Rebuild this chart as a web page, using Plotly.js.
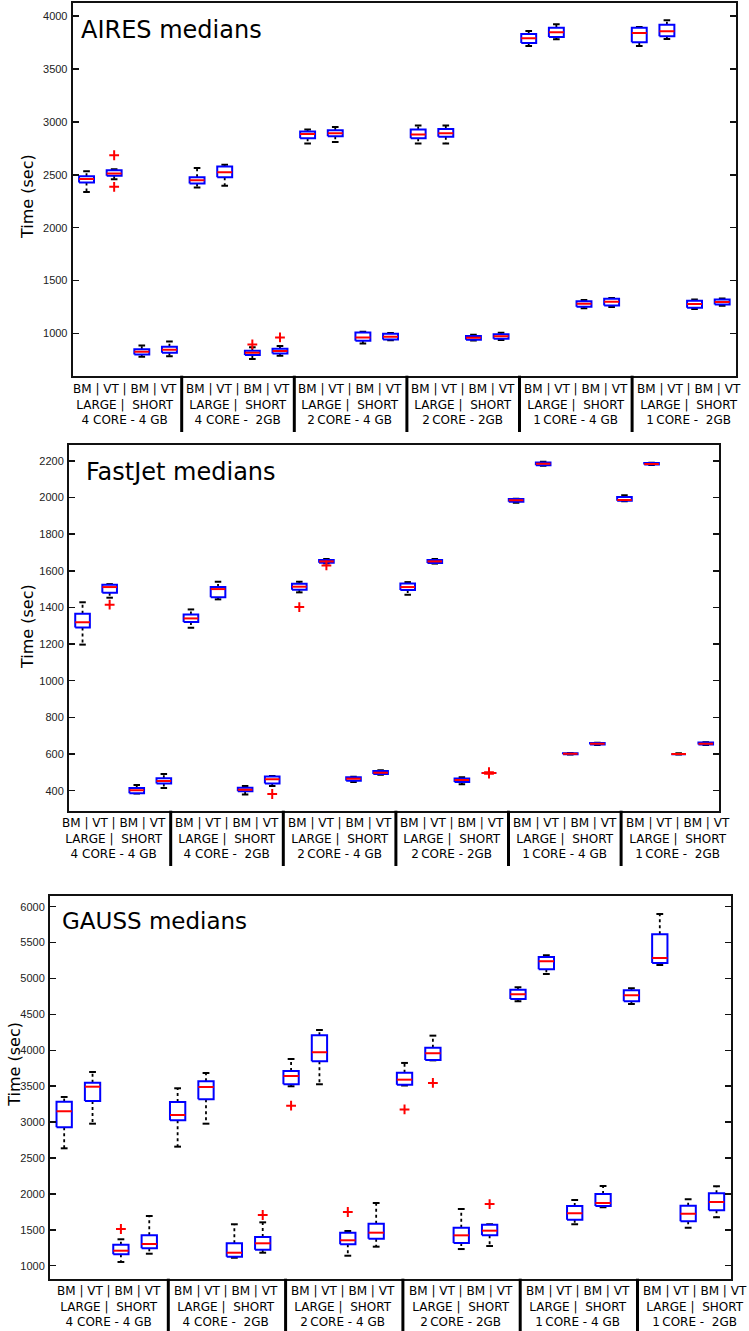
<!DOCTYPE html>
<html><head><meta charset="utf-8">
<script src="https://cdn.plot.ly/plotly-3.0.1.min.js"></script>
<style>html,body{margin:0;padding:0;background:#fff}#chart{width:749px;height:1331px}</style>
</head><body><div id="chart"></div>
<script>
// ---------- categories / labels ----------
const positions = [1,2,3,4,5,6,7,8,9,10,11,12,13,14,15,16,17,18,19,20,21,22,23,24];
const groupLine1 = "BM | VT | BM | VT";
const groupLine2 = "LARGE |\u00a0\u00a0SHORT";
const groupLine3 = ["4 CORE - 4 GB", "4 CORE -\u00a0\u00a02GB", "2\u2009CORE - 4 GB",
                    "2\u2009CORE - 2GB", "1\u2009CORE - 4 GB", "1\u2009CORE -\u00a0\u00a02GB"];
const panelTitles = ["AIRES medians", "FastJet medians", "GAUSS medians"];
const yTitle = "Time (sec)";

// ---------- AIRES ----------
const airesLow  = [2338,2458,779,785, 2380,2396,757,788, 2796,2811,905,936, 2796,2796,934,937, 3718,3782,1239,1249, 3718,3785,1230,1261];
const airesQ1   = [2427,2490,801,817, 2418,2478,795,811, 2846,2865,930,943, 2846,2859,940,949, 3747,3804,1252,1265, 3753,3810,1242,1274];
const airesMed  = [2461,2512,826,845, 2449,2525,817,833, 2887,2893,962,968, 2881,2893,959,972, 3791,3848,1280,1299, 3842,3858,1277,1296];
const airesQ3   = [2487,2544,849,873, 2478,2578,836,855, 2909,2922,1009,996, 2928,2934,975,991, 3832,3892,1305,1327, 3892,3920,1308,1321];
const airesHigh = [2534,2553,886,924, 2565,2594,870,880, 2928,2953,1015,1003, 2966,2966,987,1006, 3861,3923,1315,1334, 3898,3961,1321,1331];
const airesOut  = [[],[2685,2386],[],[], [],[],[896],[962], [],[],[],[], [],[],[],[], [],[],[],[], [],[],[],[]];

// ---------- FastJet ----------
const fastLow  = [1197,1453,385,415, 1289,1444,380,426, 1482,1640,447,487, 1469,1639,435,497, 1971,2173,598,650, 1979,2177,598,650];
const fastQ1   = [1291,1480,386,440, 1320,1456,397,440, 1496,1644,454,491, 1495,1642,447,497, 1976,2176,599,652, 1982,2179,599,652];
const fastMed  = [1319,1511,402,453, 1340,1500,405,462, 1513,1651,465,498, 1511,1651,458,497, 1984,2184,602,656, 1986,2182,600,656];
const fastQ3   = [1366,1524,415,468, 1362,1512,416,478, 1529,1658,474,507, 1531,1658,467,497, 1991,2191,605,661, 2002,2188,603,663];
const fastHigh = [1428,1527,431,491, 1389,1540,426,480, 1540,1664,476,512, 1538,1664,473,497, 1993,2194,606,662, 2012,2189,604,665];
const fastOut  = [[],[1415],[],[], [],[],[],[382], [1402],[1629],[],[], [],[],[],[493,501], [],[],[],[], [],[],[],[]];

// ---------- GAUSS ----------
const gaussLow  = [2635,2978,1052,1167, 2658,2978,1111,1181, 3499,3527,1139,1265, 3510,3860,1232,1274, 4683,5063,1577,1813, 4645,5189,1529,1674];
const gaussQ1   = [2928,3294,1159,1242, 3025,3318,1125,1223, 3527,3847,1298,1376, 3521,3865,1316,1423, 4715,5129,1641,1832, 4683,5217,1618,1772];
const gaussMed  = [3151,3493,1209,1302, 3099,3489,1181,1312, 3642,3973,1354,1460, 3591,3959,1423,1488, 4780,5240,1730,1873, 4766,5286,1724,1887];
const gaussQ3   = [3285,3549,1293,1423, 3280,3569,1312,1400, 3712,4209,1460,1585, 3689,4037,1529,1570, 4845,5300,1832,1999, 4836,5616,1836,2008];
const gaussHigh = [3350,3698,1368,1692, 3471,3684,1577,1604, 3879,4283,1483,1873, 3824,4204,1790,1577, 4878,5324,1915,2110, 4864,5899,1925,2106];
const gaussOut  = [[],[],[1511],[], [],[],[],[1706], [3229],[],[1748],[], [3176],[3545],[],[1859], [],[],[],[], [],[],[],[]];

// ---------- geometry (pixels) ----------
const W = 749, H = 1331;
const px = v => v / W, py = v => 1 - v / H;
const panels = [
  {data:[airesLow,airesQ1,airesMed,airesQ3,airesHigh,airesOut], yr:[600,4125], dtick:500,
   plot:{l:72.7,r:736,t:3,b:375.7}, title:{x:79,y:29.5,size:24}, yt:{x:27,y:197},
   lab:{c0:124.7,step:112.8,y:404}, sep:{s0:181.7,step:112.6,y0:375.7,y1:432}},
  {data:[fastLow,fastQ1,fastMed,fastQ3,fastHigh,fastOut], yr:[291,2286], dtick:200,
   plot:{l:69,r:719.3,t:445,b:810.7}, title:{x:84,y:472.5,size:24}, yt:{x:27,y:627},
   lab:{c0:113.7,step:112.9,y:838.3}, sep:{s0:170.7,step:112.6,y0:810.7,y1:866}},
  {data:[gaussLow,gaussQ1,gaussMed,gaussQ3,gaussHigh,gaussOut], yr:[819,6149], dtick:500,
   plot:{l:50,r:730.7,t:896,b:1278.7}, title:{x:60,y:920.5,size:23}, yt:{x:15,y:1064.7},
   lab:{c0:109,step:117.2,y:1306}, sep:{s0:168.3,step:117.3,y0:1278.7,y1:1331}}
];

const BW = 0.27, CW = 0.12;
const traces = [], annotations = [], shapes = [];
const layout = {width:W, height:H, margin:{l:0,r:0,t:0,b:0}, showlegend:false,
  paper_bgcolor:'#fff', plot_bgcolor:'#fff', hovermode:false};

panels.forEach((P, k) => {
  const n = k + 1, xa = 'x' + (k ? n : ''), ya = 'y' + (k ? n : '');
  const [lo, q1, md, q3, hi, out] = P.data;
  const wx=[], wy=[], cx=[], cy=[], bx=[], by=[], mx=[], my=[], ox=[], oy=[];
  positions.forEach((p, i) => {
    wx.push(p,p,null,p,p,null); wy.push(q3[i],hi[i],null,q1[i],lo[i],null);
    cx.push(p-CW,p+CW,null,p-CW,p+CW,null); cy.push(hi[i],hi[i],null,lo[i],lo[i],null);
    bx.push(p-BW,p+BW,p+BW,p-BW,p-BW,null); by.push(q1[i],q1[i],q3[i],q3[i],q1[i],null);
    mx.push(p-BW,p+BW,null); my.push(md[i],md[i],null);
    out[i].forEach(v => { ox.push(p); oy.push(v); });
  });
  const base = {xaxis:xa, yaxis:ya, hoverinfo:'skip', type:'scatter'};
  traces.push(Object.assign({x:wx,y:wy,mode:'lines',line:{color:'#000',width:1.8,dash:'3px,3px'}}, base));
  traces.push(Object.assign({x:cx,y:cy,mode:'lines',line:{color:'#000',width:2}}, base));
  traces.push(Object.assign({x:bx,y:by,mode:'lines',fill:'toself',fillcolor:'#fff',line:{color:'#0000ff',width:2}}, base));
  traces.push(Object.assign({x:mx,y:my,mode:'lines',line:{color:'#ff0000',width:2}}, base));
  traces.push(Object.assign({x:ox,y:oy,mode:'markers',marker:{symbol:'cross-thin',size:7,color:'#ff0000',line:{color:'#ff0000',width:2}}}, base));

  layout['xaxis' + (k ? n : '')] = {domain:[px(P.plot.l), px(P.plot.r)], range:[0.5,24.5], anchor:ya,
    showticklabels:false, ticks:'', showline:true, mirror:true, linewidth:2, linecolor:'#111',
    showgrid:false, zeroline:false, fixedrange:true};
  layout['yaxis' + (k ? n : '')] = {domain:[py(P.plot.b), py(P.plot.t)], range:P.yr, anchor:xa,
    tick0:0, dtick:P.dtick, ticks:'inside', ticklen:6, tickwidth:1.5, tickcolor:'#111',
    mirror:'ticks', showline:true, linewidth:2, linecolor:'#111', showgrid:false, zeroline:false,
    ticklabelstandoff:1, tickfont:{family:'Liberation Sans, Arial, sans-serif', size:11, color:'#222'}};

  annotations.push({text:panelTitles[k], xref:'paper', yref:'paper', x:px(P.title.x), y:py(P.title.y),
    xanchor:'left', yanchor:'middle', showarrow:false,
    font:{family:'DejaVu Sans', size:P.title.size, color:'#000'}});
  annotations.push({text:yTitle, xref:'paper', yref:'paper', x:px(P.yt.x), y:py(P.yt.y),
    xanchor:'center', yanchor:'middle', textangle:-90, showarrow:false,
    font:{family:'DejaVu Sans', size:16, color:'#000'}});
  groupLine3.forEach((g, j) => {
    annotations.push({text:groupLine1 + '<br>' + groupLine2 + '<br>' + g, xref:'paper', yref:'paper',
      x:px(P.lab.c0 + j*P.lab.step), y:py(P.lab.y), xanchor:'center', yanchor:'middle', align:'center',
      showarrow:false, font:{family:'DejaVu Sans', size:12, color:'#000'}});
  });
  for (let j = 0; j < 5; j++) {
    const sx = px(P.sep.s0 + j*P.sep.step);
    shapes.push({type:'line', xref:'paper', yref:'paper', x0:sx, x1:sx, y0:py(P.sep.y0), y1:py(P.sep.y1),
      line:{color:'#000', width:3}});
  }
});
layout.annotations = annotations;
layout.shapes = shapes;
Plotly.newPlot('chart', traces, layout, {staticPlot:true, displayModeBar:false});
</script></body></html>
